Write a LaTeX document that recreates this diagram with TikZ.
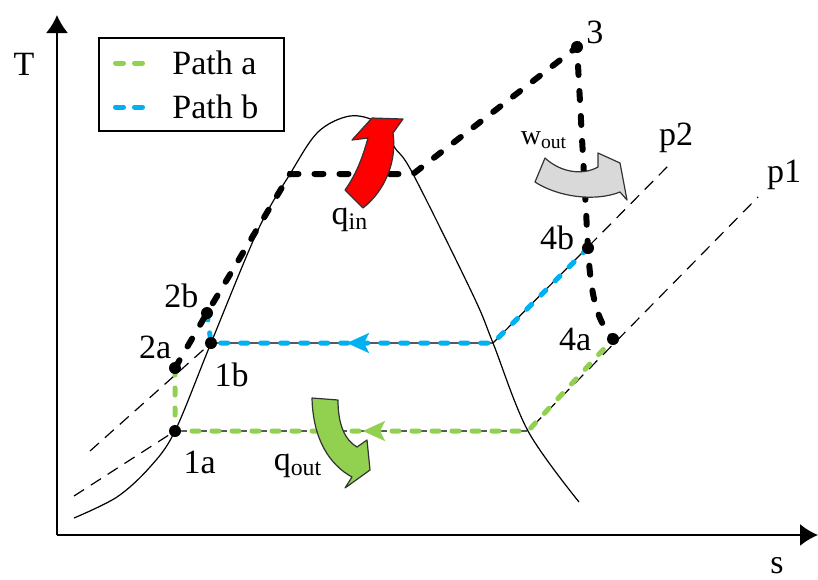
\documentclass[tikz,border=0pt]{standalone}
\usepackage{fontspec}
\setmainfont{Liberation Serif}
\usetikzlibrary{arrows.meta, positioning}
\definecolor{greenA}{RGB}{146,208,80}
\definecolor{blueB}{RGB}{0,176,240}
\definecolor{greyW}{RGB}{217,217,217}
\tikzset{
    >={Latex[length=9pt, width=11pt]}, % heads of the axes
    stpoint/.style={circle, fill, inner sep=0pt, minimum size=6pt}, % state points
    lbl/.style={font=\fontsize{17}{20}\selectfont, inner sep=1pt}, % all texts
    dome/.style={line width=0.6pt}, % saturation curve
    isobar/.style={line width=0.6pt, dash pattern=on 6pt off 4pt},
    blk/.style={line width=3pt, line cap=round, dash pattern=on 4.5pt off 8pt},
    patha/.style={greenA, line width=2.5pt, line cap=round, dash pattern=on 3.5pt off 6.5pt},
    pathb/.style={blueB, line width=2.5pt, line cap=round, dash pattern=on 3.5pt off 6.5pt},
    flow/.style={solid, line width=0.1pt, -{Stealth[length=11pt, width=10pt, inset=2.5pt]}},
    heat/.style={draw=black!80, line width=0.6pt, line join=round} % curved block arrows
}

\begin{document}
\begin{tikzpicture}[x=0.5pt, y=-0.5pt]
    \useasboundingbox (0,0) rectangle (818,579);

    % axes
    \coordinate (o) at (57,535);
    \coordinate (ytop) at (57,15);
    \coordinate (xend) at (818,535);
    \draw[->, line width=0.9pt] (o) -- (ytop);
    \draw[->, line width=0.9pt] (o) -- (xend);
    \node[lbl] (tlab) at (24,64) {T};
    \node[lbl] (slab) at (777,566) {s};

    % states
    \coordinate (c1a) at (175,431);
    \coordinate (c1b) at (211,343);
    \coordinate (c2a) at (175,368);
    \coordinate (c2b) at (207,313);
    \coordinate (c3) at (577,47);
    \coordinate (c4b) at (588,248);
    \coordinate (c4a) at (613,339);
    \coordinate (fl) at (290,174);
    \coordinate (fv) at (413,174);
    \coordinate (gb) at (493,343);
    \coordinate (ga) at (528,431);
    \coordinate (p2s) at (90,451);
    \coordinate (p2e) at (670,164);
    \coordinate (p1s) at (74,496);
    \coordinate (p1e) at (758,197);

    % isobars
    \draw[isobar] (p2s) -- (c1b) -- (gb) -- (p2e);
    \draw[isobar] (p1s) -- (c1a) -- (ga) -- (p1e);
    \node[lbl, above=4.4pt of p2e, xshift=3pt] (lp2) {p2};
    \node[lbl, above=2.4pt of p1e, xshift=13pt] (lp1) {p1};

    % saturation dome
    \draw[dome] plot[smooth, tension=0.55] coordinates {(74,518) (117,497) (150,467) (175,431)
        (211,343) (258,230) (290,174) (318,132) (350,116) (378,123) (395,148) (413,174)
        (473,295) (493,343) (528,431) (579,502)};

    % the two paths and the common part
    \draw[patha] (c2a) -- (c1a) -- (ga) -- (c4a);
    \draw[pathb] (c2b) -- (c1b) -- (gb) -- (c4b);
    \draw[blk] (c2a) -- (c2b) -- (fl) -- (fv) -- (c3) -- (c4b) .. controls (591,300) and (598,322) .. (c4a);

    \coordinate (bs) at (352,343);
    \coordinate (bt) at (347,343);
    \coordinate (gs) at (368,431);
    \coordinate (gt) at (363,431);
    \draw[blueB, flow] (bs) -- (bt);
    \draw[greenA, flow] (gs) -- (gt);

    \node[stpoint] (s1a) at (c1a) {};
    \node[stpoint] (s1b) at (c1b) {};
    \node[stpoint] (s2a) at (c2a) {};
    \node[stpoint] (s2b) at (c2b) {};
    \node[stpoint] (s3) at (c3) {};
    \node[stpoint] (s4b) at (c4b) {};
    \node[stpoint] (s4a) at (c4a) {};

    \node[lbl, below right=6.6pt and 0.9pt of s1a] (l1a) {1a};
    \node[lbl, below right=6.6pt and -1.6pt of s1b] (l1b) {1b};
    \node[lbl, above left=1.1pt and -1.6pt of s2a] (l2a) {2a};
    \node[lbl, above left=-0.9pt and 0.9pt of s2b] (l2b) {2b};
    \node[lbl, above right=-1.9pt and 1.2pt of s3] (l3) {3};
    \node[lbl, left=2.5pt of s4b, yshift=5pt] (l4b) {4b};
    \node[lbl, left=6.5pt of s4a] (l4a) {4a};

    % heat and work
    \filldraw[heat, fill=red] (345,190) .. controls (358,172) and (364,152) .. (368,138) -- (352,140)
        -- (372,118) -- (403,119) -- (393,133) .. controls (397,160) and (386,190) .. (363,208) -- cycle;
    \filldraw[heat, fill=greenA] (312,398) -- (338,400) .. controls (338,425) and (345,440) .. (357,447)
        -- (367,440) -- (370,470) -- (345,488) -- (352,477) .. controls (330,465) and (313,440) .. (312,398) -- cycle;
    \filldraw[heat, fill=greyW] (545,158) .. controls (560,172) and (582,176) .. (598,167) -- (598,153)
        -- (620,163) -- (627,200) -- (620,192) .. controls (595,202) and (558,197) .. (535,182) -- cycle;
    \node[lbl] (qin) at (350,220) {q\textsubscript{in}};
    \node[lbl] (qout) at (298,466) {q\textsubscript{out}};
    \node[lbl, font=\fontsize{14}{16}\selectfont] (wout) at (544,140) {w\textsubscript{out}};

    % legend
    \node[draw, line width=0.8pt, minimum width=92.5pt, minimum height=46.5pt, inner sep=0pt] (legend) at (191.5,84.5) {};
    \node[lbl, anchor=west] (lega) at (170,63) {Path a};
    \node[lbl, anchor=west] (legb) at (170,107) {Path b};
    \draw[patha, dash pattern=on 4pt off 5.5pt] (lega.west) ++(-54.5,0) -- ++(27,0);
    \draw[pathb, dash pattern=on 4pt off 5.5pt] (legb.west) ++(-54.5,0) -- ++(27,0);
\end{tikzpicture}
\end{document}
